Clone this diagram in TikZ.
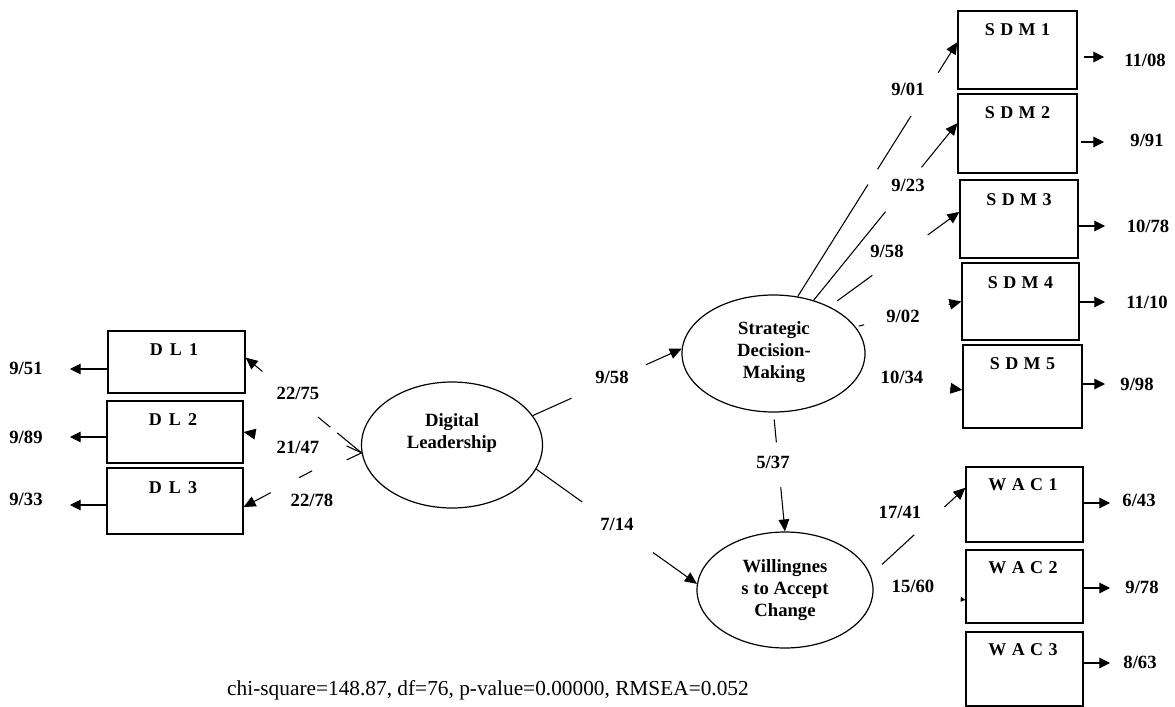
\documentclass[tikz,border=0pt]{standalone}
\usepackage{fontspec}
\setmainfont{Liberation Serif}
\usetikzlibrary{shapes.geometric,arrows.meta,calc}
\begin{document}
\begin{tikzpicture}[x=0.75pt,y=-0.75pt,
  box/.style n args={2}{draw,line width=0.9pt,minimum width=#1*0.75pt,minimum height=#2*0.75pt,inner sep=0pt},
  ell/.style n args={2}{draw,ellipse,line width=0.9pt,minimum width=#1*0.75pt,minimum height=#2*0.75pt,inner sep=0pt},
  boxlab/.style={font=\fontsize{13.5}{15}\selectfont\bfseries,inner sep=0pt},
  elltext/.style={font=\fontsize{14}{16.5}\selectfont\bfseries,align=center,inner sep=0pt},
  num/.style={font=\fontsize{14}{16}\selectfont\bfseries,inner sep=1pt},
  ln/.style={line width=0.8pt},
  arr/.style={line width=0.8pt,-{Triangle[length=9pt,width=8pt]}},
  earr/.style={line width=0.8pt,-{Triangle[length=8pt,width=8pt]}},
]
\useasboundingbox (0,0) rectangle (1175,707);

% ---------- boxes ----------
\node[box={137}{62}] (dl1) at (176.5,362) {};
\node[box={136}{62}] (dl2) at (175,432) {};
\node[box={136}{66}] (dl3) at (175,501) {};
\node[box={119}{78}] (sdm1) at (1017.5,50) {};
\node[box={119}{79}] (sdm2) at (1017.5,133.5) {};
\node[box={118}{78}] (sdm3) at (1019,219) {};
\node[box={117}{77}] (sdm4) at (1020.5,301.5) {};
\node[box={119}{83}] (sdm5) at (1022.5,386.5) {};
\node[box={117}{75}] (wac1) at (1024.5,504.5) {};
\node[box={117}{73}] (wac2) at (1024.5,586.5) {};
\node[box={117}{74}] (wac3) at (1024.5,669) {};

\node[boxlab] (dl1t) at (174,350) {D\hspace{0.4em}L\hspace{0.4em}1};
\node[boxlab] (dl2t) at (173,420) {D\hspace{0.4em}L\hspace{0.4em}2};
\node[boxlab] (dl3t) at (173,488) {D\hspace{0.4em}L\hspace{0.4em}3};
\node[boxlab] (sdm1t) at (1017.5,30) {S\hspace{0.3em}D\hspace{0.3em}M\hspace{0.3em}1};
\node[boxlab] (sdm2t) at (1017.5,113) {S\hspace{0.3em}D\hspace{0.3em}M\hspace{0.3em}2};
\node[boxlab] (sdm3t) at (1019,200) {S\hspace{0.3em}D\hspace{0.3em}M\hspace{0.3em}3};
\node[boxlab] (sdm4t) at (1020.5,283) {S\hspace{0.3em}D\hspace{0.3em}M\hspace{0.3em}4};
\node[boxlab] (sdm5t) at (1022.5,364) {S\hspace{0.3em}D\hspace{0.3em}M\hspace{0.3em}5};
\node[boxlab] (wac1t) at (1023,485) {W\hspace{0.3em}A\hspace{0.3em}C\hspace{0.3em}1};
\node[boxlab] (wac2t) at (1023,568) {W\hspace{0.3em}A\hspace{0.3em}C\hspace{0.3em}2};
\node[boxlab] (wac3t) at (1023,650) {W\hspace{0.3em}A\hspace{0.3em}C\hspace{0.3em}3};

% ---------- ellipses ----------
\node[ell={181}{126}] (dl) at (452,445) {};
\node[ell={183}{117}] (sdm) at (773.5,353.5) {};
\node[ell={176}{116}] (wac) at (785,590) {};
\node[elltext] (dlt) at (452,433) {Digital\\Leadership};
\node[elltext] (sdmt) at (774,352) {Strategic\\Decision-\\Making};
\node[elltext] (wact) at (785,590) {Willingnes\\s to Accept\\Change};

% ---------- error terms ----------
\node[num] (e1) at (26,368) {9/51};
\node[num] (e2) at (26,437) {9/89};
\node[num] (e3) at (26,499) {9/33};
\coordinate (e1a) at (70,369);
\coordinate (e2a) at (70,437);
\coordinate (e3a) at (70,505);
\draw[earr] (dl1.west |- e1a) -- (e1a);
\draw[earr] (dl2.west |- e2a) -- (e2a);
\draw[earr] (dl3.west |- e3a) -- (e3a);

\node[num] (r1t) at (1145,60) {11/08};
\node[num] (r2t) at (1147,140) {9/91};
\node[num] (r3t) at (1148,226) {10/78};
\node[num] (r4t) at (1147,302) {11/10};
\node[num] (r5t) at (1137,384) {9/98};
\node[num] (r6t) at (1139,500) {6/43};
\node[num] (r7t) at (1142,587) {9/78};
\node[num] (r8t) at (1140,662) {8/63};
\coordinate (r1) at (1104,57);
\coordinate (r2) at (1104,142);
\coordinate (r3) at (1105,226);
\coordinate (r4) at (1105,302);
\coordinate (r5) at (1105,384);
\coordinate (r6) at (1110,503);
\coordinate (r7) at (1110,588);
\coordinate (r8) at (1110,663);
\draw[earr,shorten <=4.5pt] (sdm1.east |- r1) -- (r1);
\draw[earr,shorten <=2.2pt] (sdm2.east |- r2) -- (r2);
\draw[earr] (sdm3.east |- r3) -- (r3);
\draw[earr] (sdm4.east |- r4) -- (r4);
\draw[earr] (sdm5.east |- r5) -- (r5);
\draw[earr] (wac1.east |- r6) -- (r6);
\draw[earr] (wac2.east |- r7) -- (r7);
\draw[earr] (wac3.east |- r8) -- (r8);

% ---------- DL loadings ----------
\coordinate (dl1in) at ($(dl1.north east)!0.43!(dl1.south east)$);
\coordinate (dl3in) at ($(dl3.north east)!0.59!(dl3.south east)$);
\draw[ln] (dl.185) -- ($(dl.185)!0.21!(dl1in)$);
\draw[ln] ($(dl.185)!0.27!(dl1in)$) -- ($(dl.185)!0.376!(dl1in)$);
\draw[arr] ($(dl.185)!0.855!(dl1in)$) -- (dl1in);
\draw[ln] ([shift={(-15,-7)}]dl.185) -- (dl.185) -- ([shift={(-15,7)}]dl.185);
\draw[arr] ($(dl.185)!0.9!(dl2.east)$) -- (dl2.east);
\draw[ln] ($(dl.west)!0.416!(dl3in)$) -- ($(dl.west)!0.528!(dl3in)$);
\draw[arr] ($(dl.west)!0.768!(dl3in)$) -- (dl3in);

% ---------- structural paths ----------
\draw[ln] (dl.20) -- ($(dl.20)!0.26!(sdm.177)$);
\draw[arr] ($(dl.20)!0.76!(sdm.177)$) -- (sdm.177);
\draw[ln] (dl.-16) -- ($(dl.-16)!0.286!(wac.176)$);
\draw[arr] ($(dl.-16)!0.727!(wac.176)$) -- (wac.176);
\draw[ln] ($(sdm.south)!0.058!(wac.north)$) -- ($(sdm.south)!0.25!(wac.north)$);
\draw[arr] ($(sdm.south)!0.63!(wac.north)$) -- (wac.north);

% ---------- SDM loadings ----------
\coordinate (s1in) at ($(sdm1.north west)!0.4!(sdm1.south west)$);
\coordinate (s2in) at ($(sdm2.north west)!0.37!(sdm2.south west)$);
\coordinate (s3in) at ($(sdm3.north west)!0.41!(sdm3.south west)$);
\coordinate (s5in) at ($(sdm5.north west)!0.54!(sdm5.south west)$);
\draw[ln] (sdm.67) -- ($(sdm.67)!0.44!(s1in)$);
\draw[ln] ($(sdm.67)!0.50!(s1in)$) -- ($(sdm.67)!0.71!(s1in)$);
\draw[arr] ($(sdm.67)!0.88!(s1in)$) -- (s1in);
\draw[ln] (sdm.53) -- ($(sdm.53)!0.5!(s2in)$);
\draw[arr] ($(sdm.53)!0.75!(s2in)$) -- (s2in);
\draw[ln] ($(sdm.40)!0.06!(s3in)$) -- ($(sdm.40)!0.33!(s3in)$);
\draw[arr] ($(sdm.40)!0.756!(s3in)$) -- (s3in);
\draw[ln] ($(sdm.18)!0.03!(sdm4.west)$) -- ($(sdm.18)!0.08!(sdm4.west)$);
\draw[arr] ($(sdm.18)!0.88!(sdm4.west)$) -- (sdm4.west);
\draw[arr] ($(sdm.-15)!0.88!(s5in)$) -- (s5in);

% ---------- WAC loadings ----------
\coordinate (w1in) at ($(wac1.north west)!0.28!(wac1.south west)$);
\coordinate (w2in) at ($(wac2.north west)!0.68!(wac2.south west)$);
\draw[ln] ($(wac.10)!0.12!(w1in)$) -- ($(wac.10)!0.46!(w1in)$);
\draw[arr] ($(wac.10)!0.78!(w1in)$) -- (w1in);
\draw[ln,-{Triangle[length=3.5pt,width=3.5pt]}] ($(wac.east)!0.95!(w2in)$) -- (w2in);

% ---------- path labels ----------
\node[num] (p1) at (298,393) {22/75};
\node[num] (p2) at (298,447) {21/47};
\node[num] (p3) at (312,500) {22/78};
\node[num] (p4) at (612,377) {9/58};
\node[num] (p5) at (617,524) {7/14};
\node[num] (p6) at (908,89) {9/01};
\node[num] (p7) at (908,185) {9/23};
\node[num] (p8) at (887,251) {9/58};
\node[num] (p9) at (903,316) {9/02};
\node[num] (p10) at (902,377) {10/34};
\node[num] (p11) at (773,462) {5/37};
\node[num] (p12) at (900,512) {17/41};
\node[num] (p13) at (913,586) {15/60};

% ---------- fit ----------
\node[font=\fontsize{16}{18}\selectfont,inner sep=0pt] (fitt) at (488,690) {chi-square=148.87, df=76, p-value=0.00000, RMSEA=0.052};
\end{tikzpicture}
\end{document}
